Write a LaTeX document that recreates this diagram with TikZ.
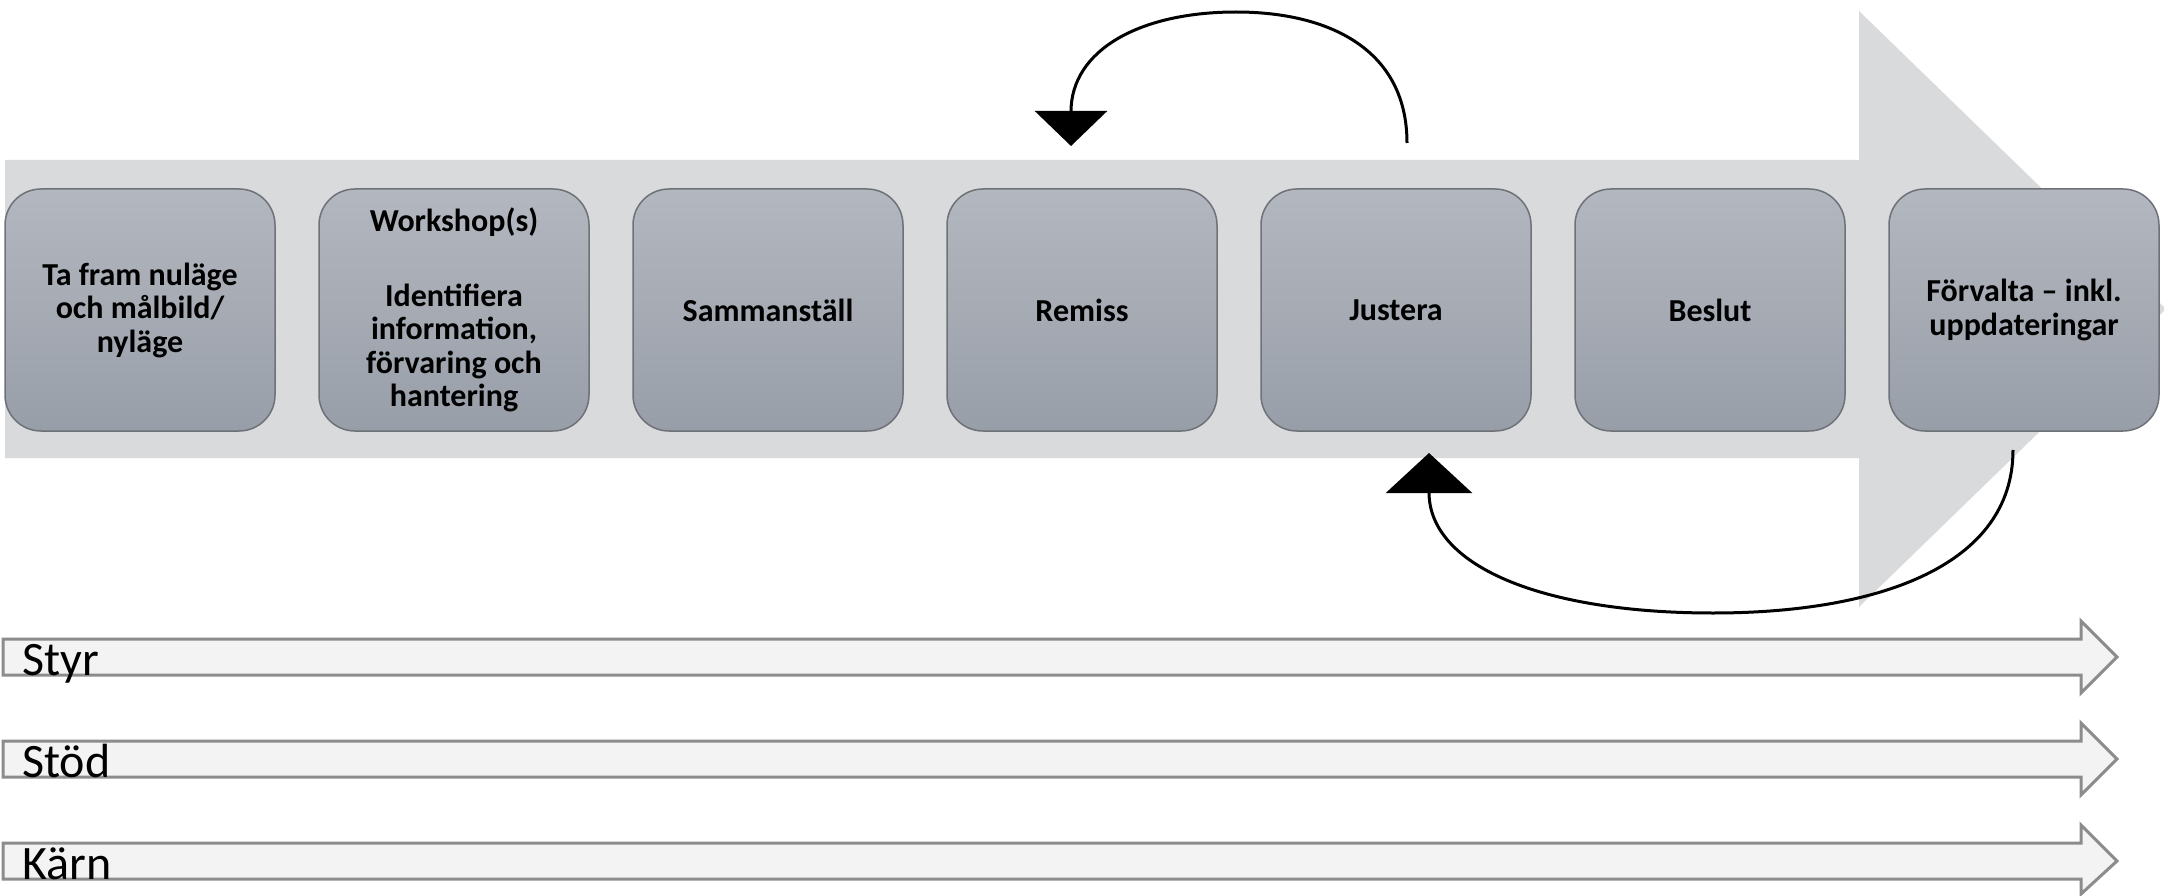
\documentclass[tikz,border=0pt]{standalone}
\usepackage{fontspec}
\setmainfont{Carlito}
\usetikzlibrary{arrows.meta}
\definecolor{bigarrow}{HTML}{D9DADC}
\definecolor{boxtop}{HTML}{B3B7BF}
\definecolor{boxbot}{HTML}{989EA8}
\definecolor{boxline}{HTML}{6E7278}
\definecolor{lanefill}{HTML}{F3F3F3}
\definecolor{laneline}{HTML}{8C8C8C}
\begin{document}
\begin{tikzpicture}[x=1pt,y=-1pt,
  stepbox/.style={rounded corners=36pt, minimum width=270pt, minimum height=242pt, inner sep=0pt,
    top color=boxtop, bottom color=boxbot, draw=boxline, line width=1.5pt, align=center,
    font=\bfseries\fontsize{32}{33.5}\selectfont, text=black},
  lanearrow/.style={fill=lanefill, draw=laneline, line width=3pt, line join=miter},
  lanelabel/.style={anchor=base west, inner sep=0pt, font=\fontsize{48}{56}\selectfont},
  looparrow/.style={line width=3pt},
]
\useasboundingbox (0,0) rectangle (2164,896);
% big process arrow
\fill[bigarrow] (5,160) -- (1859,160) -- (1859,11) -- (2166,309) -- (1859,607) -- (1859,458) -- (5,458) -- cycle;
% steps
\node[stepbox] (b1) at (140,310) {Ta fram nuläge\\och målbild/\\nyläge};
\node[stepbox] (b2) at (454,310) {Workshop(s)\\[41pt]Identifiera\\information,\\förvaring och\\hantering};
\node[stepbox] (b3) at (768,310) {Sammanställ};
\node[stepbox] (b4) at (1082,310) {Remiss};
\node[stepbox] (b5) at (1396,310) {Justera};
\node[stepbox] (b6) at (1710,310) {Beslut};
\node[stepbox] (b7) at (2024,310) {Förvalta – inkl.\\uppdateringar};
% loop arrows
\coordinate (u1) at (1407,143);
\coordinate (u2) at (1236,12);
\coordinate (u3) at (1071,146);
\draw[looparrow, -{Triangle[width=72pt,length=35pt]}] (u1) .. controls (1407,50) and (1330,12) .. (u2) .. controls (1140,12) and (1071,50) .. (u3);
\coordinate (l1) at (2013,450);
\coordinate (l2) at (1713,613);
\coordinate (l3) at (1429,453);
\draw[looparrow, -{Triangle[width=86pt,length=40pt]}] (l1) .. controls (2013,565) and (1880,613) .. (l2) .. controls (1540,613) and (1429,565) .. (l3);
% lanes
\draw[lanearrow] (3,639) -- (2081,639) -- (2081,621) -- (2117,657) -- (2081,693) -- (2081,675) -- (3,675) -- cycle;
\draw[lanearrow] (3,741) -- (2081,741) -- (2081,723) -- (2117,759) -- (2081,795) -- (2081,777) -- (3,777) -- cycle;
\draw[lanearrow] (3,843) -- (2081,843) -- (2081,825) -- (2117,861) -- (2081,894) -- (2081,879) -- (3,879) -- cycle;
\node[lanelabel] (styr) at (22,675) {Styr};
\node[lanelabel] (stod) at (22,777) {Stöd};
\node[lanelabel] (karn) at (22,879) {Kärn};
\end{tikzpicture}
\end{document}
